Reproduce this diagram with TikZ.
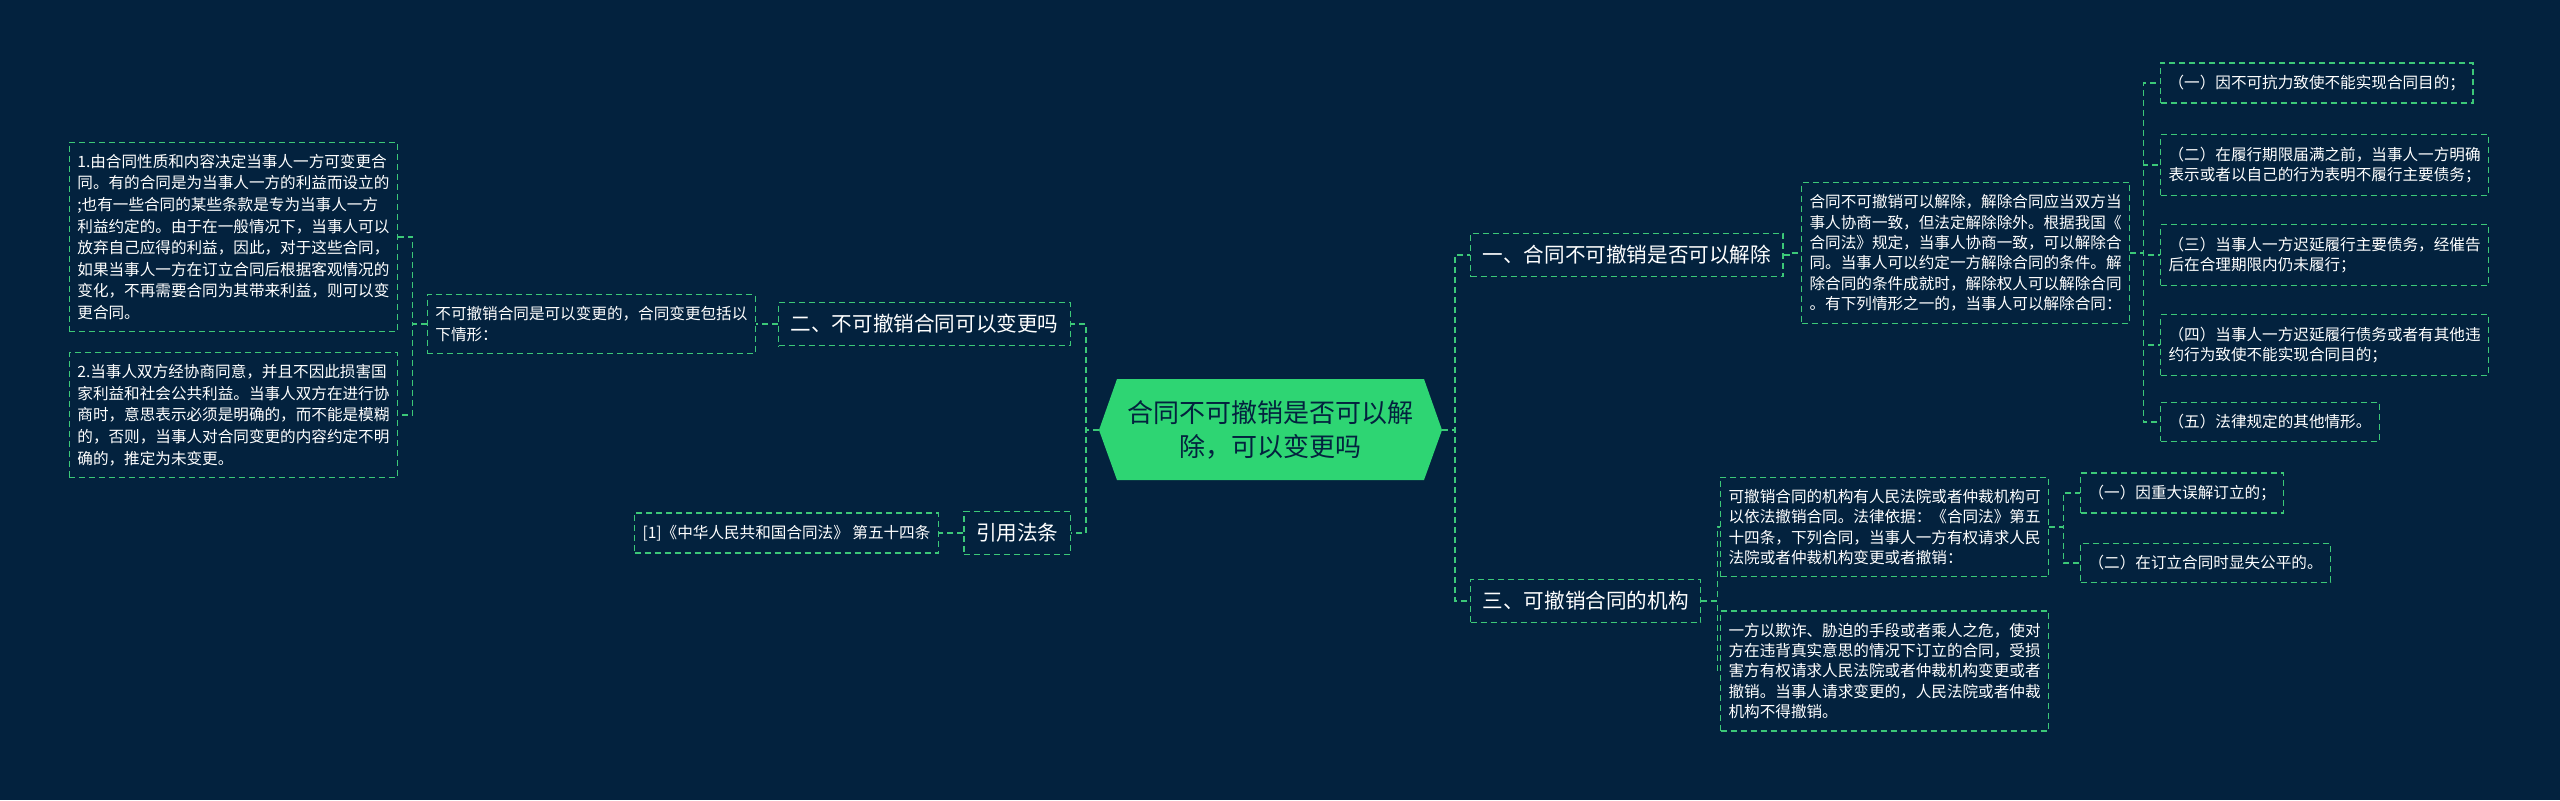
\documentclass[tikz,border=0pt]{standalone}
\usepackage{fontspec}
\setmainfont{Noto Sans CJK SC}
\definecolor{bg}{RGB}{3,34,62}
\definecolor{ln}{RGB}{60,200,120}
\definecolor{hex}{RGB}{46,213,115}
\begin{document}
\begin{tikzpicture}[x=0.5pt,y=-0.5pt,
  box/.style={draw=ln,dash pattern=on 3pt off 2pt,line width=0.6pt,text=white,align=left,inner xsep=4pt,inner ysep=6pt,anchor=west,font=\fontsize{7.8}{10.2}\selectfont},
  br/.style={box,font=\fontsize{10.3}{13}\selectfont,inner xsep=6pt,inner ysep=6pt},
  conn/.style={draw=ln,dash pattern=on 3pt off 2pt,line width=0.6pt}]
\fill[bg] (0,0) rectangle (2560,800);
\useasboundingbox (0,0) rectangle (2560,800);
% center
\fill[hex] (1099,430) -- (1117,379) -- (1424,379) -- (1442,430) -- (1424,480) -- (1117,480) -- cycle;
\node[text=bg,align=center,font=\fontsize{13}{17}\selectfont] (c) at (1270,430) {合同不可撤销是否可以解\\除，可以变更吗};
\coordinate (cw) at (1099,430);
\coordinate (ce) at (1442,430);
% branch 1
\node[br] (b1) at (1470,255) {一、合同不可撤销是否可以解除};
\node[box] (d1) at (1801,253) {合同不可撤销可以解除，解除合同应当双方当\\事人协商一致，但法定解除除外。根据我国《\\合同法》规定，当事人协商一致，可以解除合\\同。当事人可以约定一方解除合同的条件。解\\除合同的条件成就时，解除权人可以解除合同\\。有下列情形之一的，当事人可以解除合同：};
\node[box] (l1) at (2160,83) {（一）因不可抗力致使不能实现合同目的；};
\node[box] (l2) at (2160,165) {（二）在履行期限届满之前，当事人一方明确\\表示或者以自己的行为表明不履行主要债务；};
\node[box] (l3) at (2160,255) {（三）当事人一方迟延履行主要债务，经催告\\后在合理期限内仍未履行；};
\node[box] (l4) at (2160,345) {（四）当事人一方迟延履行债务或者有其他违\\约行为致使不能实现合同目的；};
\node[box] (l5) at (2160,422) {（五）法律规定的其他情形。};
% branch 3
\node[br] (b3) at (1470,601) {三、可撤销合同的机构};
\node[box] (d3a) at (1720,527) {可撤销合同的机构有人民法院或者仲裁机构可\\以依法撤销合同。法律依据：《合同法》第五\\十四条，下列合同，当事人一方有权请求人民\\法院或者仲裁机构变更或者撤销：};
\node[box] (d3b) at (1720,671) {一方以欺诈、胁迫的手段或者乘人之危，使对\\方在违背真实意思的情况下订立的合同，受损\\害方有权请求人民法院或者仲裁机构变更或者\\撤销。当事人请求变更的，人民法院或者仲裁\\机构不得撤销。};
\node[box] (m1) at (2080,493) {（一）因重大误解订立的；};
\node[box] (m2) at (2080,563) {（二）在订立合同时显失公平的。};
% branch 2
\node[br,anchor=east] (b2) at (1071,324) {二、不可撤销合同可以变更吗};
\node[box,anchor=east] (d2) at (756,324) {不可撤销合同是可以变更的，合同变更包括以\\下情形：};
\node[box,anchor=east,font=\fontsize{7.8}{10.8}\selectfont] (k1) at (398,237) {1.由合同性质和内容决定当事人一方可变更合\\同。有的合同是为当事人一方的利益而设立的\\;也有一些合同的某些条款是专为当事人一方\\利益约定的。由于在一般情况下，当事人可以\\放弃自己应得的利益，因此，对于这些合同，\\如果当事人一方在订立合同后根据客观情况的\\变化，不再需要合同为其带来利益，则可以变\\更合同。};
\node[box,anchor=east,font=\fontsize{7.8}{10.8}\selectfont] (k2) at (398,415) {2.当事人双方经协商同意，并且不因此损害国\\家利益和社会公共利益。当事人双方在进行协\\商时，意思表示必须是明确的，而不能是模糊\\的，否则，当事人对合同变更的内容约定不明\\确的，推定为未变更。};
% ref
\node[br,anchor=east] (b4) at (1071,533) {引用法条};
\node[box,anchor=east] (r) at (939,533) {[1]《中华人民共和国合同法》 第五十四条};
% connectors
\foreach \t in {b1,b3} \draw[conn] (ce) -- ++(13,0) |- (\t.west);
\foreach \t in {b2,b4} \draw[conn] (cw) -- ++(-13,0) |- (\t.east);
\draw[conn] (b1.east) -- ++(8,0) |- (d1.west);
\foreach \t in {l1,l2,l3,l4,l5} \draw[conn] (d1.east) -- ++(13,0) |- (\t.west);
\foreach \t in {d3a,d3b} \draw[conn] (b3.east) -- ++(16,0) |- (\t.west);
\foreach \t in {m1,m2} \draw[conn] (d3a.east) -- ++(14,0) |- (\t.west);
\draw[conn] (b2.west) -- ++(-15,0) |- (d2.east);
\foreach \t in {k1,k2} \draw[conn] (d2.west) -- ++(-14,0) |- (\t.east);
\draw[conn] (b4.west) -- (r.east);
\end{tikzpicture}
\end{document}
